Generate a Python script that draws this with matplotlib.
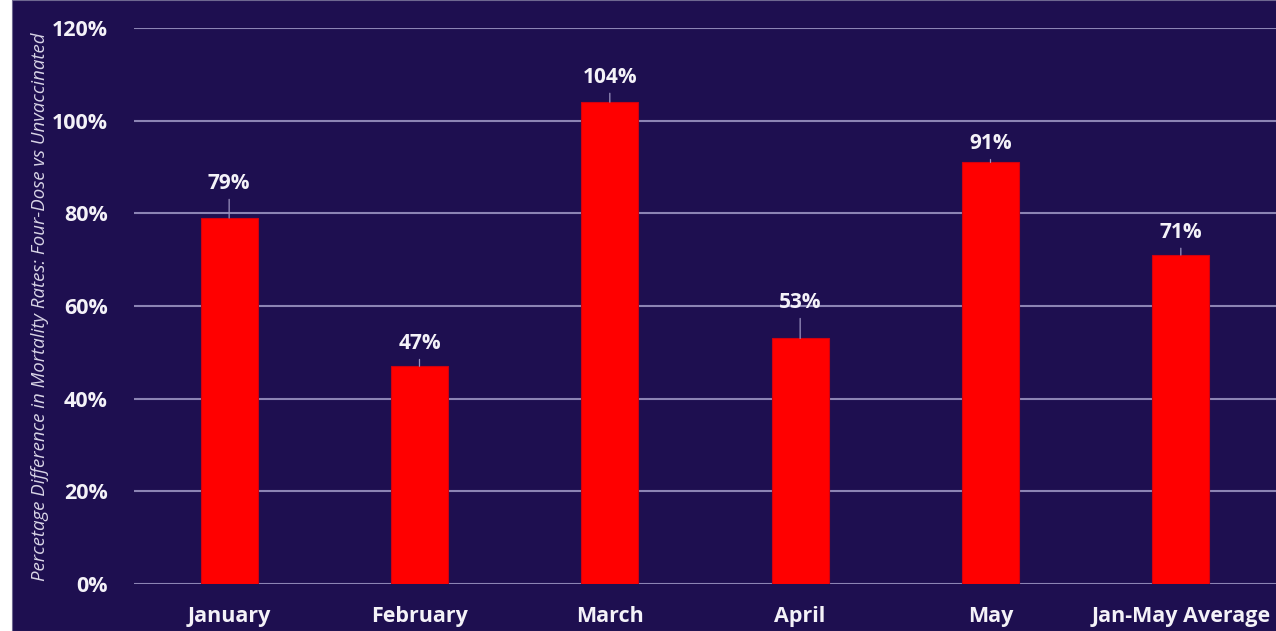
import numpy as np
import matplotlib.pyplot as plt
from matplotlib.patches import Rectangle
from matplotlib.ticker import PercentFormatter

# data
months = ['January', 'February', 'March', 'April', 'May', 'Jan-May Average']
pct_diff = [0.79, 0.47, 1.04, 0.53, 0.91, 0.71]
# label centre lift above bar top, in points (varies like the original)
label_lift = [25, 16.5, 18, 26, 13.7, 16.5]

bg = '#1e0f50'
grid_col = '#8c84b4'

plt.rcParams['font.family'] = ['Open Sans', 'DejaVu Sans']

fig = plt.figure(figsize=(12.76, 6.31), dpi=100, facecolor='white')
# navy panel, leaving the thin white strip on the left
fig.add_artist(Rectangle((0.0094, 0), 1, 1, transform=fig.transFigure,
                         facecolor=bg, edgecolor='#6e6890', lw=0.8, zorder=0))

ax = fig.add_axes([0.105, 0.0745, 0.895, 0.881])
ax.set_facecolor(bg)

x = np.arange(len(months))
ax.bar(x, pct_diff, width=0.3, color='#ff0000', edgecolor='#d00010',
       linewidth=0.8, zorder=3)

for xi, v, lift in zip(x, pct_diff, label_lift):
    ax.annotate(f'{v*100:.0f}%', xy=(xi, v), xytext=(0, lift),
                textcoords='offset points', ha='center', va='center',
                color='#f4f2f8', fontsize=15, fontweight='bold',
                arrowprops=dict(arrowstyle='-', color='#9a92be', lw=0.9,
                                shrinkA=2, shrinkB=0))

ax.set_xlim(-0.5, len(months) - 0.5)
ax.set_ylim(0, 1.2)
ax.set_yticks(np.arange(0, 1.21, 0.2))
ax.yaxis.set_major_formatter(PercentFormatter(1.0, decimals=0))
ax.set_xticks(x)
ax.set_xticklabels(months)

ax.grid(axis='y', color=grid_col, lw=1.5, zorder=0)
for s in ax.spines.values():
    s.set_visible(False)
ax.tick_params(axis='both', length=0, colors='white', labelsize=15.5)
ax.tick_params(axis='x', pad=16)
ax.tick_params(axis='y', pad=19)
for lab in ax.get_xticklabels() + ax.get_yticklabels():
    lab.set_fontweight('bold')
    lab.set_color('#f4f2f8')

ax.set_ylabel('Percetage Difference in Mortality Rates: Four-Dose vs Unvaccinated',
              color='#d8d4e6', fontsize=13.4, style='italic')
ax.yaxis.set_label_coords(-0.074, 0.498)

fig.savefig('out.png', dpi=100, facecolor=fig.get_facecolor())
